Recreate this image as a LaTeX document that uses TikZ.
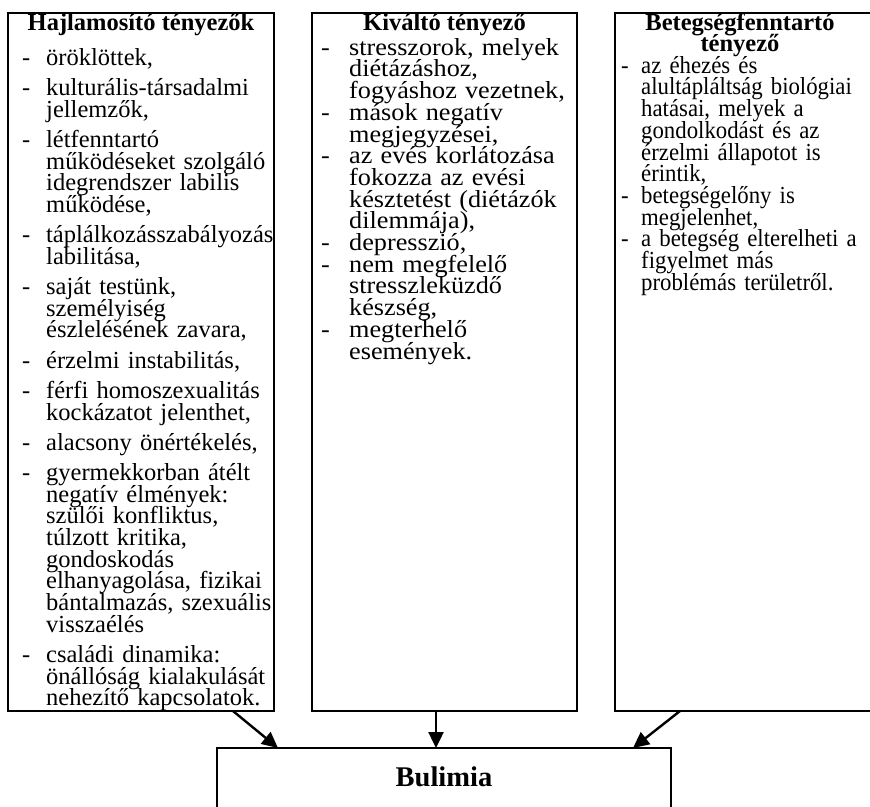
\documentclass[tikz,border=0pt]{standalone}
\usepackage{fontspec}
\setmainfont{Liberation Serif}
\newfontfamily\midfont[FakeStretch=1.07]{Liberation Serif}
\newfontfamily\rightfont[FakeStretch=0.93]{Liberation Serif}
\usetikzlibrary{arrows.meta}
\newlength{\dashw}
\newlength{\itemgap}
\newcommand{\tightlines}{\lineskiplimit=-100pt\relax\lineskip=0pt\relax}
\newcommand{\firstitem}[1]{\hangindent=\dashw\hangafter=1\noindent\rule{0pt}{25pt}\makebox[\dashw][l]{-}#1}
\newcommand{\bitem}[1]{\par\vspace{\itemgap}\hangindent=\dashw\hangafter=1\noindent\makebox[\dashw][l]{-}#1}
\tikzset{
  box/.style={draw, line width=2.2pt, inner sep=0pt, outer sep=0pt, anchor=north west},
  body/.style={inner sep=0pt, anchor=north west, text width=400pt, align=left,
    font=#1\fontsize{24.5}{21.7}\selectfont},
  ttl/.style={inner sep=0pt, anchor=base, font=\fontsize{24.5}{21.7}\selectfont\bfseries},
  arr/.style={line width=2.4pt, -{Triangle[length=16pt,width=15pt]}}
}
\begin{document}
\begin{tikzpicture}[x=1pt, y=-1pt]
\useasboundingbox (0,0) rectangle (870,806);
% boxes
\node[box, minimum width=266pt, minimum height=698pt] (hajl) at (8,13) {};
\node[box, minimum width=265pt, minimum height=698pt] (kiv) at (312,13) {};
\node[box, minimum width=265pt, minimum height=698pt] (bet) at (615,13) {};
\node[box, minimum width=454pt, minimum height=100pt] (bul) at (217,748) {};
% titles
\node[ttl] (t1) at (141,30) {Hajlamosító tényezők};
\node[ttl] (t2) at (444.5,30) {Kiváltó tényező};
\node[ttl] (t3a) at (740,30) {Betegségfenntartó};
\node[ttl] (t3b) at (740,51) {tényező};
\node[ttl, font=\fontsize{28.5}{30}\selectfont\bfseries] (bt) at (444,786) {Bulimia};
% left body
\node[body=\rmfamily] (b1) at (22,40) {\tightlines\dashw=24pt\relax\itemgap=8.5pt\relax
\firstitem{öröklöttek,}
\bitem{kulturális-társadalmi\newline jellemzők,}
\bitem{létfenntartó\newline működéseket szolgáló\newline idegrendszer labilis\newline működése,}
\bitem{táplálkozásszabályozás\newline labilitása,}
\bitem{saját testünk,\newline személyiség\newline észlelésének zavara,}
\bitem{érzelmi instabilitás,}
\bitem{férfi homoszexualitás\newline kockázatot jelenthet,}
\bitem{alacsony önértékelés,}
\bitem{gyermekkorban átélt\newline negatív élmények:\newline szülői konfliktus,\newline túlzott kritika,\newline gondoskodás\newline elhanyagolása, fizikai\newline bántalmazás, szexuális\newline visszaélés}
\bitem{családi dinamika:\newline önállóság kialakulását\newline nehezítő kapcsolatok.}\par};
% middle body
\node[body=\midfont] (b2) at (321,30) {\tightlines\dashw=28pt\relax\itemgap=0pt\relax
\firstitem{stresszorok, melyek\newline diétázáshoz,\newline fogyáshoz vezetnek,}
\bitem{mások negatív\newline megjegyzései,}
\bitem{az evés korlátozása\newline fokozza az evési\newline késztetést (diétázók\newline dilemmája),}
\bitem{depresszió,}
\bitem{nem megfelelő\newline stresszleküzdő\newline készség,}
\bitem{megterhelő\newline események.}\par};
% right body
\node[body=\rightfont\fontsize{23}{21.7}\selectfont] (b3) at (621,48) {\tightlines\dashw=20pt\relax\itemgap=0pt\relax
\firstitem{az éhezés és\newline alultápláltság biológiai\newline hatásai, melyek a\newline gondolkodást és az\newline érzelmi állapotot is\newline érintik,}
\bitem{betegségelőny is\newline megjelenhet,}
\bitem{a betegség elterelheti a\newline figyelmet más\newline problémás területről.}\par};
% arrows
\draw[arr] ([xshift=225pt]hajl.south west) -- ([xshift=61pt]bul.north west);
\draw[arr] ([xshift=124pt]kiv.south west) -- ([xshift=219pt]bul.north west);
\draw[arr] ([xshift=65pt]bet.south west) -- ([xshift=416pt]bul.north west);
\end{tikzpicture}
\end{document}
